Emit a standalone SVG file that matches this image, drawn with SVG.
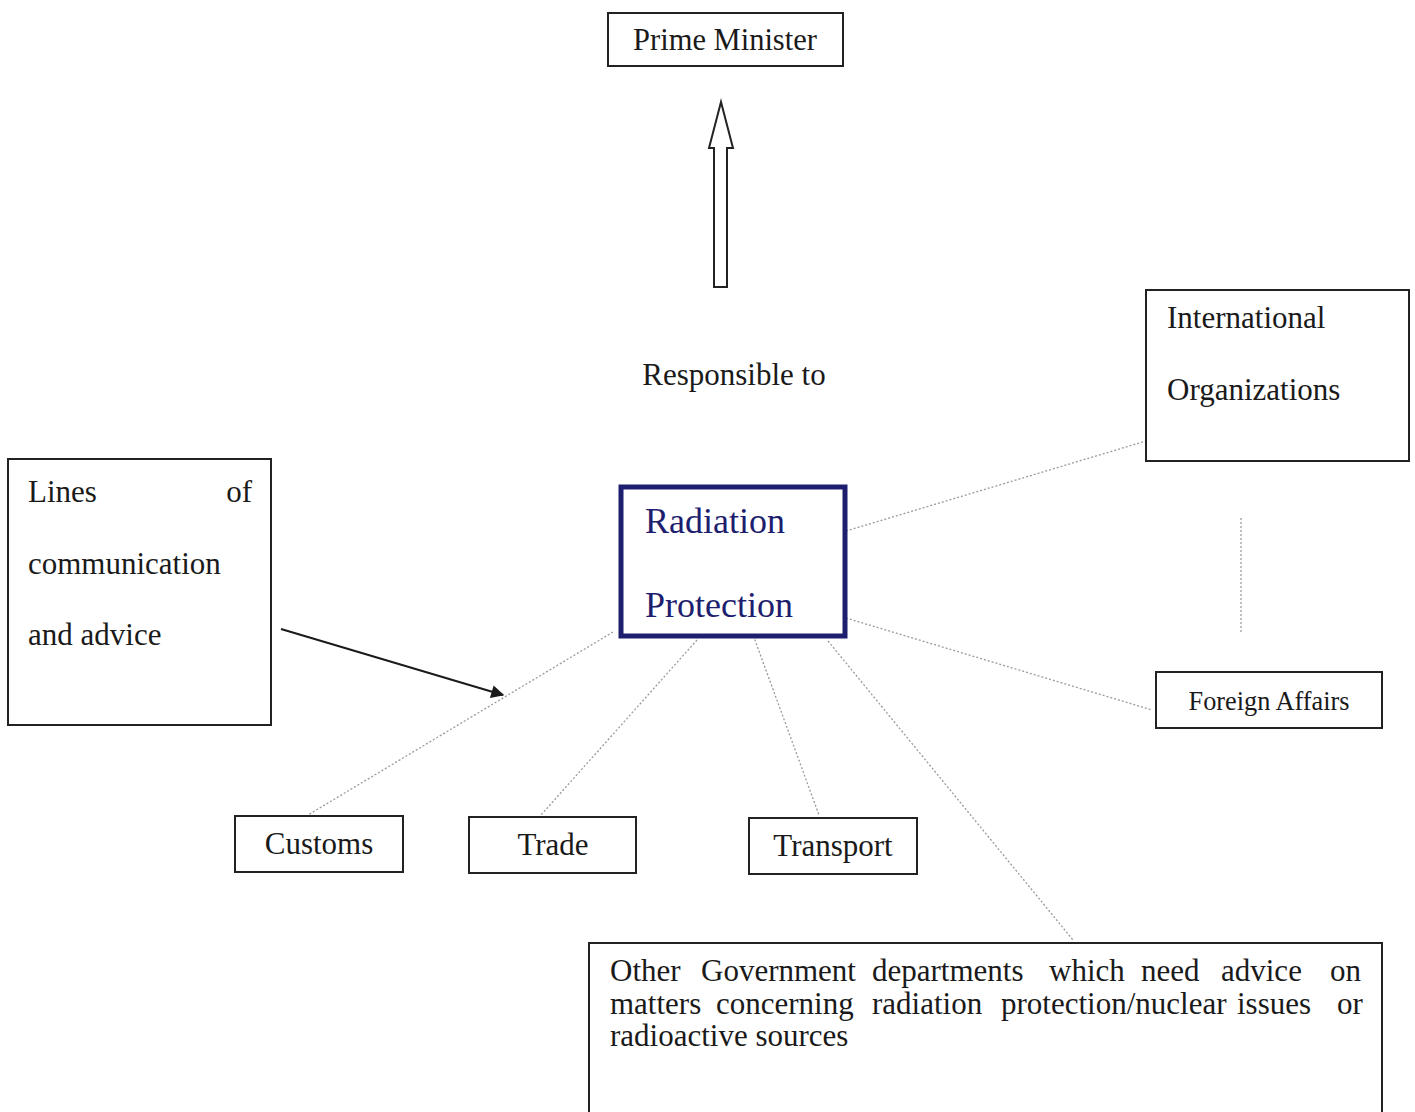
<svg xmlns="http://www.w3.org/2000/svg" width="1415" height="1112" viewBox="0 0 1415 1112">
<defs>
<style>
.box{fill:#fff;stroke:#222;stroke-width:2}
.t{font-family:"Liberation Serif","Times New Roman",serif;fill:#1a1a1a}
.dot{stroke:#9a9a9a;stroke-width:1.3;stroke-dasharray:2 2;fill:none}
</style>
<marker id="ah" viewBox="0 0 10 10" refX="9" refY="5" markerWidth="15" markerHeight="13" markerUnits="userSpaceOnUse" orient="auto">
<path d="M0,0 L10,5 L0,10 z" fill="#1a1a1a"/>
</marker>
</defs>
<rect width="1415" height="1112" fill="#fff"/>
<g id="connectors">
<line class="dot" x1="846" y1="531" x2="1146" y2="441"/>
<line class="dot" x1="846" y1="618" x2="1152" y2="710"/>
<line class="dot" x1="1241" y1="518" x2="1241" y2="633"/>
<line class="dot" x1="613" y1="632" x2="308" y2="815"/>
<line class="dot" x1="697" y1="640" x2="541" y2="815"/>
<line class="dot" x1="752" y1="632" x2="819" y2="815"/>
<line class="dot" x1="828" y1="641" x2="1073" y2="940"/>
<line x1="281" y1="629" x2="503" y2="695" stroke="#1a1a1a" stroke-width="2" marker-end="url(#ah)"/>
<path d="M714,287 L714,148 L709,148 L721,102 L733,148 L727,148 L727,287 Z" fill="#fff" stroke="#222" stroke-width="2" stroke-linejoin="miter"/>
</g>
<g id="prime-minister">
<rect class="box" x="608" y="13" width="235" height="53"/>
<text class="t" x="725" y="50" font-size="30.5" text-anchor="middle">Prime Minister</text>
</g>
<g id="responsible-to">
<text class="t" x="734" y="385" font-size="31" text-anchor="middle">Responsible to</text>
</g>
<g id="radiation-protection">
<rect x="621" y="487" width="224" height="149" fill="#fff" stroke="#1e1e6e" stroke-width="5"/>
<text class="t" x="645" y="533" font-size="36" style="fill:#1e1e6e">Radiation</text>
<text class="t" x="645" y="617" font-size="36" style="fill:#1e1e6e">Protection</text>
</g>
<g id="international-organizations">
<rect class="box" x="1146" y="290" width="263" height="171"/>
<text class="t" x="1167" y="328" font-size="31">International</text>
<text class="t" x="1167" y="400" font-size="31">Organizations</text>
</g>
<g id="foreign-affairs">
<rect class="box" x="1156" y="672" width="226" height="56"/>
<text class="t" x="1269" y="710" font-size="26.3" text-anchor="middle">Foreign Affairs</text>
</g>
<g id="lines-of-communication">
<rect class="box" x="8" y="459" width="263" height="266"/>
<text class="t" x="28" y="502" font-size="31">Lines</text>
<text class="t" x="252" y="502" font-size="31" text-anchor="end">of</text>
<text class="t" x="28" y="574" font-size="31">communication</text>
<text class="t" x="28" y="645" font-size="31">and advice</text>
</g>
<g id="customs">
<rect class="box" x="235" y="816" width="168" height="56"/>
<text class="t" x="319" y="854" font-size="31" text-anchor="middle">Customs</text>
</g>
<g id="trade">
<rect class="box" x="469" y="817" width="167" height="56"/>
<text class="t" x="553" y="855" font-size="31" text-anchor="middle">Trade</text>
</g>
<g id="transport">
<rect class="box" x="749" y="818" width="168" height="56"/>
<text class="t" x="833" y="856" font-size="31" text-anchor="middle">Transport</text>
</g>
<g id="other-departments">
<rect class="box" x="589" y="943" width="793" height="180"/>
<text class="t" y="981" font-size="31"><tspan x="610">Other</tspan> <tspan x="701">Government</tspan> <tspan x="872">departments</tspan> <tspan x="1049">which</tspan> <tspan x="1141">need</tspan> <tspan x="1221">advice</tspan> <tspan x="1330">on</tspan></text>
<text class="t" y="1014" font-size="31"><tspan x="610">matters</tspan> <tspan x="716">concerning</tspan> <tspan x="872">radiation</tspan> <tspan x="1001">protection/nuclear</tspan> <tspan x="1237">issues</tspan> <tspan x="1337">or</tspan></text>
<text class="t" x="610" y="1046" font-size="31">radioactive sources</text>
</g>
</svg>
